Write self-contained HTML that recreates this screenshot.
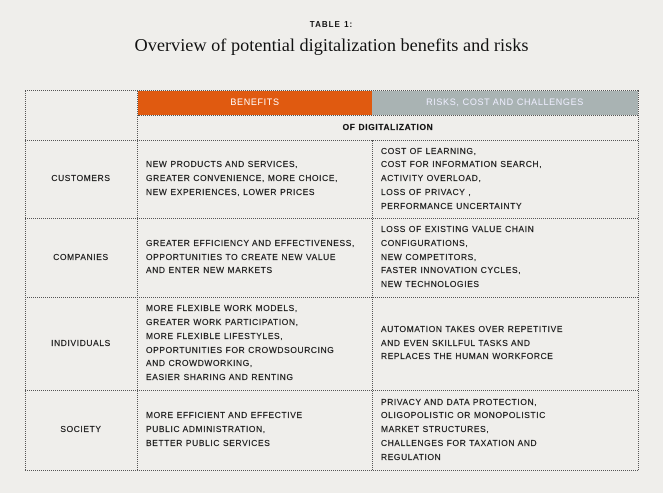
<!DOCTYPE html>
<html><head><meta charset="utf-8"><style>
html,body{margin:0;padding:0}
body{width:663px;height:493px;background:#efeeeb;position:relative;overflow:hidden;font-family:"Liberation Sans",sans-serif;color:#111}
.t1{position:absolute;top:20px;left:0;width:663px;text-align:center;font-size:8px;font-weight:bold;letter-spacing:1px}
.t2{position:absolute;top:35px;left:0;width:663px;text-align:center;font-family:"Liberation Serif",serif;font-size:18.3px;color:#111}
.c{position:absolute;box-sizing:border-box;font-size:8.4px;text-transform:uppercase;letter-spacing:0.65px;line-height:13.8px;display:flex;align-items:center;-webkit-text-stroke:0.2px #111}
.hl{position:absolute;border-top:1px dotted #555}
.vl{position:absolute;border-left:1px dotted #555}
</style></head><body>
<div class="t1">TABLE 1:</div>
<div class="t2">Overview of potential digitalization benefits and risks</div>
<div class="c" style="left:138px;top:91px;width:234px;height:24px;background:#e05a10;color:#fff;justify-content:center;font-size:9px;-webkit-text-stroke:0">Benefits</div>
<div class="c" style="left:372px;top:91px;width:266px;height:24px;background:#a9b3b3;color:#eef;justify-content:center;font-size:9px;-webkit-text-stroke:0">Risks, cost and challenges</div>
<div class="c" style="left:138px;top:116px;width:500px;height:24px;justify-content:center;font-weight:bold">of digitalization</div>

<div class="hl" style="left:25px;top:90px;width:613px"></div>
<div class="hl" style="left:138px;top:115px;width:500px"></div>
<div class="hl" style="left:25px;top:140px;width:613px"></div>
<div class="hl" style="left:25px;top:218px;width:613px"></div>
<div class="hl" style="left:25px;top:297px;width:613px"></div>
<div class="hl" style="left:25px;top:390px;width:613px"></div>
<div class="hl" style="left:25px;top:470px;width:613px"></div>
<div class="vl" style="left:25px;top:90px;height:380px"></div>
<div class="vl" style="left:137px;top:90px;height:380px"></div>
<div class="vl" style="left:372px;top:140px;height:330px"></div>
<div class="vl" style="left:638px;top:90px;height:380px"></div>

<div class="c" style="left:25px;top:140px;width:112px;height:78px;justify-content:center">Customers</div>
<div class="c" style="left:25px;top:218px;width:112px;height:79px;justify-content:center">Companies</div>
<div class="c" style="left:25px;top:297px;width:112px;height:93px;justify-content:center">Individuals</div>
<div class="c" style="left:25px;top:390px;width:112px;height:80px;justify-content:center">Society</div>

<div class="c" style="left:146px;top:140px;width:226px;height:78px">New products and services,<br>greater convenience, more choice,<br>new experiences, lower prices</div>
<div class="c" style="left:146px;top:218px;width:226px;height:79px">Greater efficiency and effectiveness,<br>opportunities to create new value<br>and enter new markets</div>
<div class="c" style="left:146px;top:297px;width:226px;height:93px">More flexible work models,<br>greater work participation,<br>more flexible lifestyles,<br>opportunities for crowdsourcing<br>and crowdworking,<br>easier sharing and renting</div>
<div class="c" style="left:146px;top:390px;width:226px;height:80px">More efficient and effective<br>public administration,<br>better public services</div>

<div class="c" style="left:381px;top:140px;width:257px;height:78px">Cost of learning,<br>cost for information search,<br>activity overload,<br>loss of privacy ,<br>performance uncertainty</div>
<div class="c" style="left:381px;top:218px;width:257px;height:79px">Loss of existing value chain<br>configurations,<br>new competitors,<br>faster innovation cycles,<br>new technologies</div>
<div class="c" style="left:381px;top:297px;width:257px;height:93px">Automation takes over repetitive<br>and even skillful tasks and<br>replaces the human workforce</div>
<div class="c" style="left:381px;top:390px;width:257px;height:80px">Privacy and data protection,<br>oligopolistic or monopolistic<br>market structures,<br>challenges for taxation and<br>regulation</div>
</body></html>
